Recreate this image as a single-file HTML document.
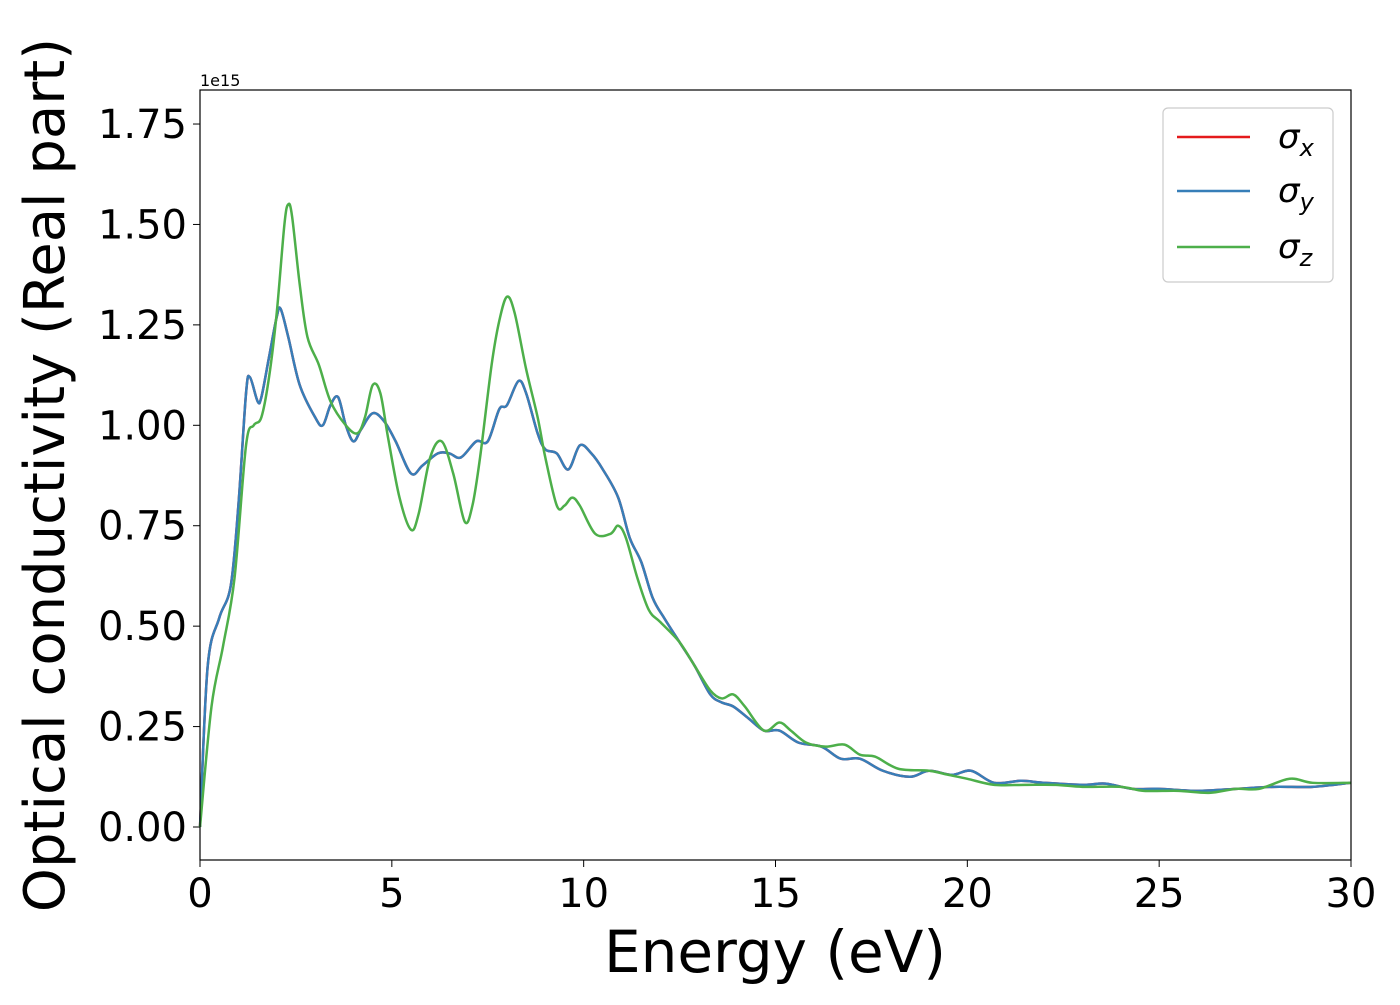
<!DOCTYPE html>
<html><head><meta charset="utf-8"><style>
body{margin:0;background:#fff}
svg text{font-family:"DejaVu Sans","Liberation Sans",sans-serif}
</style></head><body>
<svg id="chart" width="1400" height="1000">
<rect width="1400" height="1000" fill="#fff"/>
<g id="ticks"></g>
<g id="lines"></g>
<rect x="200" y="90" width="1151" height="770" fill="none" stroke="#000" stroke-width="1.2"/>
<text x="200" y="86" font-size="16">1e15</text>
<text x="775" y="972" font-size="58" text-anchor="middle">Energy (eV)</text>
<text transform="translate(64,475) rotate(-90)" font-size="56" text-anchor="middle">Optical conductivity (Real part)</text>
<g>
<rect x="1163" y="108" width="170" height="174" rx="5" fill="#fff" stroke="#ccc" stroke-width="1.2"/>
<line x1="1177" y1="137" x2="1250" y2="137" stroke="#e41a1c" stroke-width="2.5"/>
<text x="1278" y="148" font-size="34" font-style="italic">σ<tspan font-size="24" dy="8">x</tspan></text>
<line x1="1177" y1="191" x2="1250" y2="191" stroke="#377eb8" stroke-width="2.5"/>
<text x="1278" y="202" font-size="34" font-style="italic">σ<tspan font-size="24" dy="8">y</tspan></text>
<line x1="1177" y1="247" x2="1250" y2="247" stroke="#4daf4a" stroke-width="2.5"/>
<text x="1278" y="258" font-size="34" font-style="italic">σ<tspan font-size="24" dy="8">z</tspan></text>
</g>
</svg>
<script>
const xTicks=[0,5,10,15,20,25,30];
const yTicks=[0,0.25,0.5,0.75,1.0,1.25,1.5,1.75];
const yTickLabels=["0.00","0.25","0.50","0.75","1.00","1.25","1.50","1.75"];
const energyXY=[0,0.2,0.5,0.8,1.0,1.2,1.3,1.5,1.6,1.8,2.0,2.1,2.3,2.6,3.0,3.2,3.4,3.6,3.8,4.0,4.2,4.5,4.8,5.1,5.5,5.8,6.2,6.5,6.8,7.2,7.5,7.8,8.0,8.3,8.5,8.8,9.0,9.3,9.6,9.9,10.2,10.5,10.9,11.2,11.5,11.8,12.1,12.5,12.9,13.3,13.6,13.9,14.3,14.7,15.1,15.6,16.2,16.7,17.2,17.8,18.5,19.0,19.6,20.1,20.7,21.4,22,23,23.6,24.3,25,26,27,28,29,30];
const sigmaXY=[0,0.4,0.52,0.6,0.8,1.08,1.12,1.06,1.07,1.17,1.27,1.29,1.22,1.1,1.02,1.0,1.05,1.07,1.0,0.96,0.99,1.03,1.01,0.96,0.88,0.9,0.93,0.93,0.92,0.96,0.96,1.04,1.05,1.11,1.08,0.98,0.94,0.93,0.89,0.95,0.93,0.89,0.82,0.72,0.66,0.57,0.52,0.46,0.4,0.33,0.31,0.3,0.27,0.24,0.24,0.21,0.2,0.17,0.17,0.14,0.125,0.14,0.13,0.14,0.11,0.115,0.11,0.105,0.108,0.095,0.095,0.09,0.095,0.1,0.1,0.11];
const energyZ=[0,0.3,0.6,0.9,1.2,1.4,1.6,1.8,2.0,2.2,2.3,2.4,2.6,2.8,3.1,3.4,3.8,4.1,4.3,4.5,4.7,4.9,5.2,5.5,5.7,6.0,6.3,6.6,6.9,7.1,7.3,7.6,7.8,8.0,8.2,8.5,8.8,9.0,9.3,9.5,9.7,9.9,10.3,10.7,10.9,11.1,11.4,11.7,12.0,12.5,12.9,13.3,13.6,13.9,14.2,14.7,15.1,15.4,15.8,16.3,16.8,17.2,17.6,18.2,19,19.5,20,20.7,21.5,22.3,23,24,24.6,25.5,26.3,27,27.6,28.4,29,30];
const sigmaZ=[0,0.3,0.45,0.62,0.95,1.0,1.02,1.12,1.28,1.5,1.55,1.52,1.35,1.22,1.15,1.06,1.0,0.98,1.02,1.1,1.08,0.97,0.82,0.74,0.78,0.92,0.96,0.88,0.76,0.8,0.92,1.15,1.26,1.32,1.28,1.14,1.02,0.92,0.8,0.8,0.82,0.8,0.73,0.73,0.75,0.72,0.62,0.54,0.51,0.46,0.4,0.34,0.32,0.33,0.3,0.24,0.26,0.24,0.21,0.2,0.205,0.18,0.175,0.145,0.14,0.13,0.12,0.105,0.105,0.105,0.1,0.1,0.09,0.09,0.085,0.095,0.095,0.12,0.11,0.11];
const NS="http://www.w3.org/2000/svg";
const X=v=>200+v*(1151/30);
const Y=v=>827-v*401.7;
const tg=document.getElementById('ticks');
xTicks.forEach(t=>{
 const l=document.createElementNS(NS,'line');
 l.setAttribute('x1',X(t));l.setAttribute('x2',X(t));l.setAttribute('y1',860);l.setAttribute('y2',867);l.setAttribute('stroke','#000');
 
 
 tg.appendChild(l);
 const s=document.createElementNS(NS,'text');
 s.setAttribute('x',X(t));s.setAttribute('y',907);s.setAttribute('font-size','40');s.setAttribute('text-anchor','middle');s.textContent=t;
 
 
 tg.appendChild(s);
});
yTicks.forEach((t,i)=>{
 const l=document.createElementNS(NS,'line');
 l.setAttribute('x1',193);l.setAttribute('x2',200);l.setAttribute('y1',Y(t));l.setAttribute('y2',Y(t));l.setAttribute('stroke','#000');
 
 
 tg.appendChild(l);
 const s=document.createElementNS(NS,'text');
 s.setAttribute('x',187);s.setAttribute('y',Y(t)+14);s.setAttribute('font-size','40');s.setAttribute('text-anchor','end');s.textContent=yTickLabels[i];
 
 
 tg.appendChild(s);
});
function pathFor(xs,ys){
 const p=xs.map((x,i)=>[X(x),Y(ys[i])]);
 let d='M'+p[0][0]+','+p[0][1];
 for(let i=0;i<p.length-1;i++){
  const p0=p[i-1]||p[i],p1=p[i],p2=p[i+1],p3=p[i+2]||p2;
  const c1=[p1[0]+(p2[0]-p0[0])/6,p1[1]+(p2[1]-p0[1])/6];
  const c2=[p2[0]-(p3[0]-p1[0])/6,p2[1]-(p3[1]-p1[1])/6];
  d+=`C${c1[0]},${c1[1]} ${c2[0]},${c2[1]} ${p2[0]},${p2[1]}`;
 }
 return d;
}
const lg=document.getElementById('lines');
[[energyXY,sigmaXY,'#e41a1c','sigma-x-line'],[energyXY,sigmaXY,'#377eb8','sigma-y-line'],[energyZ,sigmaZ,'#4daf4a','sigma-z-line']].forEach(s=>{
 const p=document.createElementNS(NS,'path');
 p.setAttribute('d',pathFor(s[0],s[1]));p.setAttribute('fill','none');p.setAttribute('stroke',s[2]);p.setAttribute('stroke-width','2.5');
 
 
 lg.appendChild(p);
});
</script>
</body></html>
